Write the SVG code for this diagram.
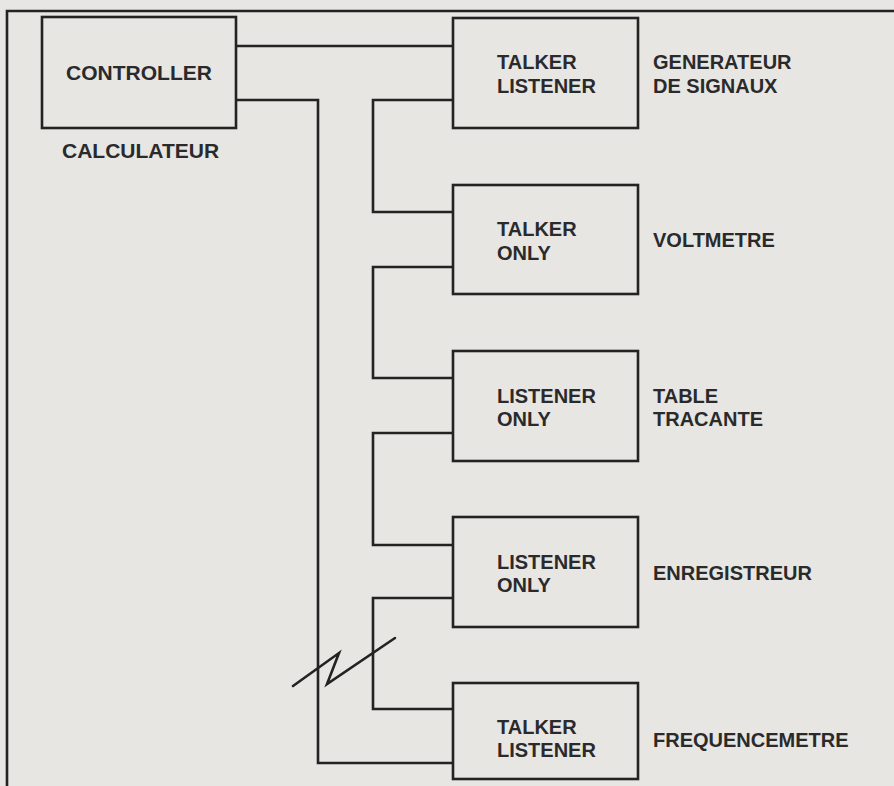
<svg xmlns="http://www.w3.org/2000/svg" width="894" height="786" viewBox="0 0 894 786">
<style>
.bg{fill:#e7e6e2}
.box{fill:none;stroke:#232323;stroke-width:2.6}
.wire{fill:none;stroke:#232323;stroke-width:2.6;stroke-linejoin:miter}
.t{font-family:"Liberation Sans",Arial,sans-serif;font-weight:bold;font-size:20px;fill:#2a2a2c}
.c{font-size:21px}
</style>
<rect class="bg" x="0" y="0" width="894" height="786"/>
<g id="frame">
<path class="wire" d="M7,786 V11 H894"/>
</g>
<g id="connectors">
<path class="wire" d="M236,46 H453"/>
<path class="wire" d="M236,100 H318 V763 H453"/>
<path class="wire" d="M453,100 H373 V212 H453"/>
<path class="wire" d="M453,267 H373 V378 H453"/>
<path class="wire" d="M453,433 H373 V545 H453"/>
<path class="wire" d="M453,598 H373 V709 H453"/>
<path class="wire" d="M293,686 L339,653 L327,684 L395,638" stroke-linecap="round"/>
</g>
<g id="controller">
<rect class="box" x="42" y="17" width="194" height="111"/>
<text class="t c" x="139" y="80" text-anchor="middle">CONTROLLER</text>
<text class="t c" x="62" y="158">CALCULATEUR</text>
</g>
<g id="generateur">
<rect class="box" x="453" y="18" width="185" height="110"/>
<text class="t" x="497" y="69">TALKER</text>
<text class="t" x="497" y="93">LISTENER</text>
<text class="t" x="653" y="69">GENERATEUR</text>
<text class="t" x="653" y="93">DE SIGNAUX</text>
</g>
<g id="voltmetre">
<rect class="box" x="453" y="185" width="185" height="109"/>
<text class="t" x="497" y="236">TALKER</text>
<text class="t" x="497" y="260">ONLY</text>
<text class="t" x="653" y="247">VOLTMETRE</text>
</g>
<g id="table">
<rect class="box" x="453" y="351" width="185" height="110"/>
<text class="t" x="497" y="403">LISTENER</text>
<text class="t" x="497" y="426">ONLY</text>
<text class="t" x="653" y="403">TABLE</text>
<text class="t" x="653" y="426">TRACANTE</text>
</g>
<g id="enregistreur">
<rect class="box" x="453" y="517" width="185" height="110"/>
<text class="t" x="497" y="569">LISTENER</text>
<text class="t" x="497" y="592">ONLY</text>
<text class="t" x="653" y="580">ENREGISTREUR</text>
</g>
<g id="frequencemetre">
<rect class="box" x="453" y="683" width="185" height="96"/>
<text class="t" x="497" y="734">TALKER</text>
<text class="t" x="497" y="757">LISTENER</text>
<text class="t" x="653" y="747">FREQUENCEMETRE</text>
</g>
</svg>
